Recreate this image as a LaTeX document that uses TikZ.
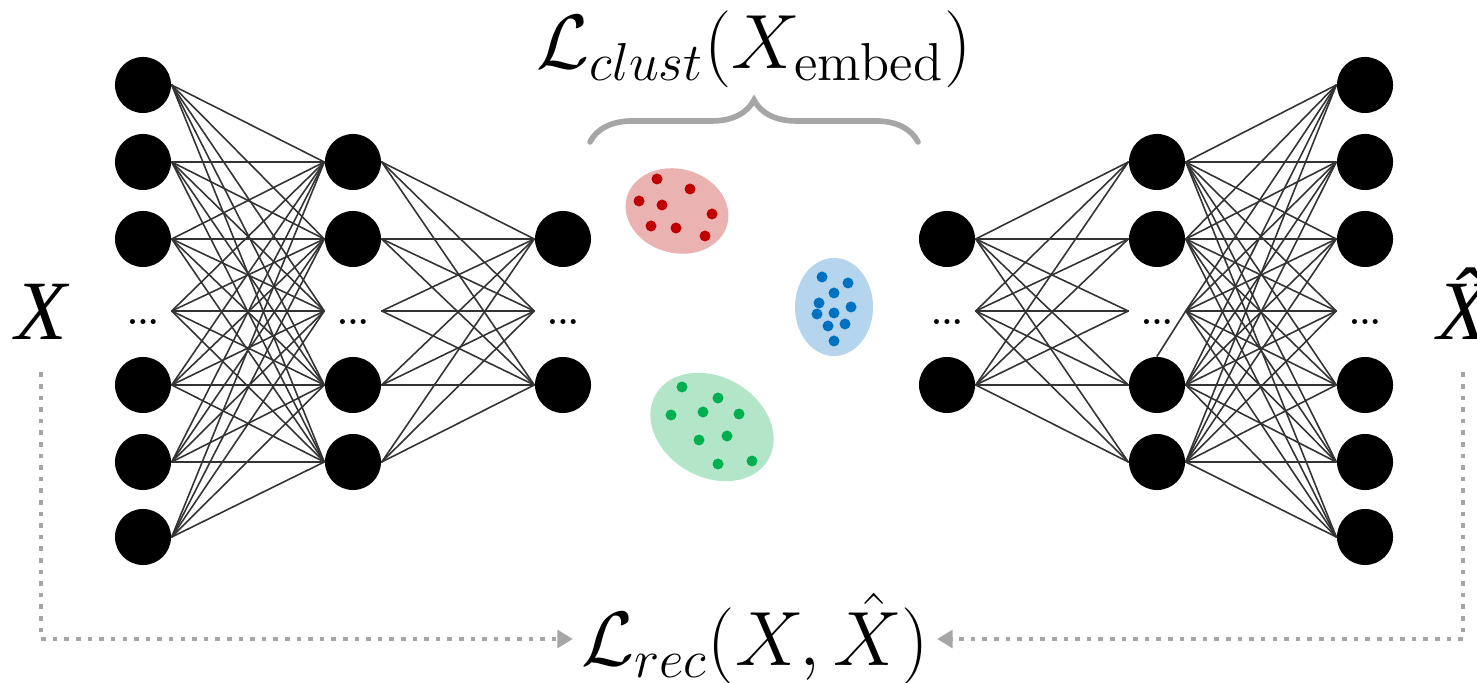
\documentclass[tikz,border=0pt]{standalone}
\usepackage{amsmath,amssymb}
\usepackage{fontspec}
\newfontfamily\timesfont{Liberation Serif}
\usepackage{tikz}
\usetikzlibrary{arrows.meta,decorations.pathreplacing,shapes.geometric}
\usepackage{xcolor}
\definecolor{redset}{HTML}{EBB2B2}
\definecolor{reddot}{HTML}{C00000}
\definecolor{blueset}{HTML}{B5D4EE}
\definecolor{bluedot}{HTML}{0070C0}
\definecolor{greenset}{HTML}{B3E6C9}
\definecolor{greendot}{HTML}{00B050}
\definecolor{lossgray}{HTML}{A6A6A6}

\begin{document}
\begin{tikzpicture}[x=0.01cm,y=-0.01cm,line cap=round,
  neuron/.style={circle,fill=black,minimum size=0.56cm,inner sep=0pt},
  gap/.style={minimum width=0.56cm,minimum height=0pt,inner sep=0pt,
    label={[font=\small\bfseries,inner sep=0pt,label distance=0.07cm]below:...}},
  link/.style={black!80,line width=0.45pt},
  clu/.style={ellipse,inner sep=0pt},
  loss/.style={font=\fontsize{20.74}{25}\selectfont,scale=1.055,inner sep=2pt},
  bigx/.style={font=\timesfont\itshape\fontsize{24}{28}\selectfont,inner sep=9pt,anchor=base},
  recline/.style={draw=lossgray,line width=1.4pt,line cap=butt,dash pattern=on 1.3pt off 2pt,
    -{Triangle[length=4.4pt,width=5pt,fill=lossgray]}}]
\useasboundingbox (0,0) rectangle (1477,683);

\foreach \n/\y in {1/85,2/162,3/239,5/385,6/462,7/537} {
  \node[neuron] (a\n) at (143,\y) {};
  \node[neuron] (f\n) at (1365,\y) {};
}
\foreach \n/\y in {1/162,2/239,4/385,5/462} {
  \node[neuron] (b\n) at (353,\y) {};
  \node[neuron] (e\n) at (1157,\y) {};
}
\foreach \n/\y in {1/239,3/385} {
  \node[neuron] (c\n) at (563,\y) {};
  \node[neuron] (d\n) at (947,\y) {};
}
\node[gap] (a4) at (143,311) {};
\node[gap] (f4) at (1365,311) {};
\node[gap] (b3) at (353,311) {};
\node[gap] (e3) at (1157,311) {};
\node[gap] (c2) at (563,311) {};
\node[gap] (d2) at (947,311) {};

\foreach \i in {1,...,7} \foreach \j in {1,...,5} {
  \draw[link] (a\i.east) -- (b\j.west);
  \draw[link] (e\j.east) -- (f\i.west);
}
\foreach \i in {1,...,5} \foreach \j in {1,...,3} {
  \draw[link] (b\i.east) -- (c\j.west);
  \draw[link] (d\j.east) -- (e\i.west);
}
\draw[link] (e3.east) -- (e4.north);

\node[clu,fill=redset,minimum width=1.04cm,minimum height=0.84cm,rotate=-15] (redclu) at (677,211) {};
\node[clu,fill=blueset,minimum width=0.78cm,minimum height=0.98cm] (blueclu) at (834,307) {};
\node[clu,fill=greenset,minimum width=1.30cm,minimum height=1.00cm,rotate=-30] (greenclu) at (712,427) {};
\foreach \x/\y in {657/179,690/189,639/201,662/205,712/214,651/226,676/228,705/236}
  \fill[reddot] (\x,\y) circle (0.055cm);
\foreach \x/\y in {822/277,848/283,834/293,819/303,851/307,817/314,834/313,828/326,845/324,834/341}
  \fill[bluedot] (\x,\y) circle (0.055cm);
\foreach \x/\y in {682/387,718/398,671/415,703/412,739/414,699/440,727/436,718/464,752/461}
  \fill[greendot] (\x,\y) circle (0.055cm);

\coordinate (braceL) at (590,142);
\coordinate (braceR) at (918,142);
\draw[lossgray,line width=1.6pt,decorate,decoration={brace,amplitude=0.42cm}] (braceL) -- (braceR);
\node[loss,anchor=base] (clust) at (754,69) {$\mathcal{L}_{clust}(X_{\mathrm{embed}})$};

\node[bigx] (xin) at (41,340) {X};
\node[bigx] (xout) at (1463,340) {\^{X}};
\node[loss] (rec) at (755,639) {$\mathcal{L}_{rec}(X,\hat{X})$};
\draw[recline] (xin.south) |- (rec.west);
\draw[recline] (xout.south) |- (rec.east);
\end{tikzpicture}
\end{document}
